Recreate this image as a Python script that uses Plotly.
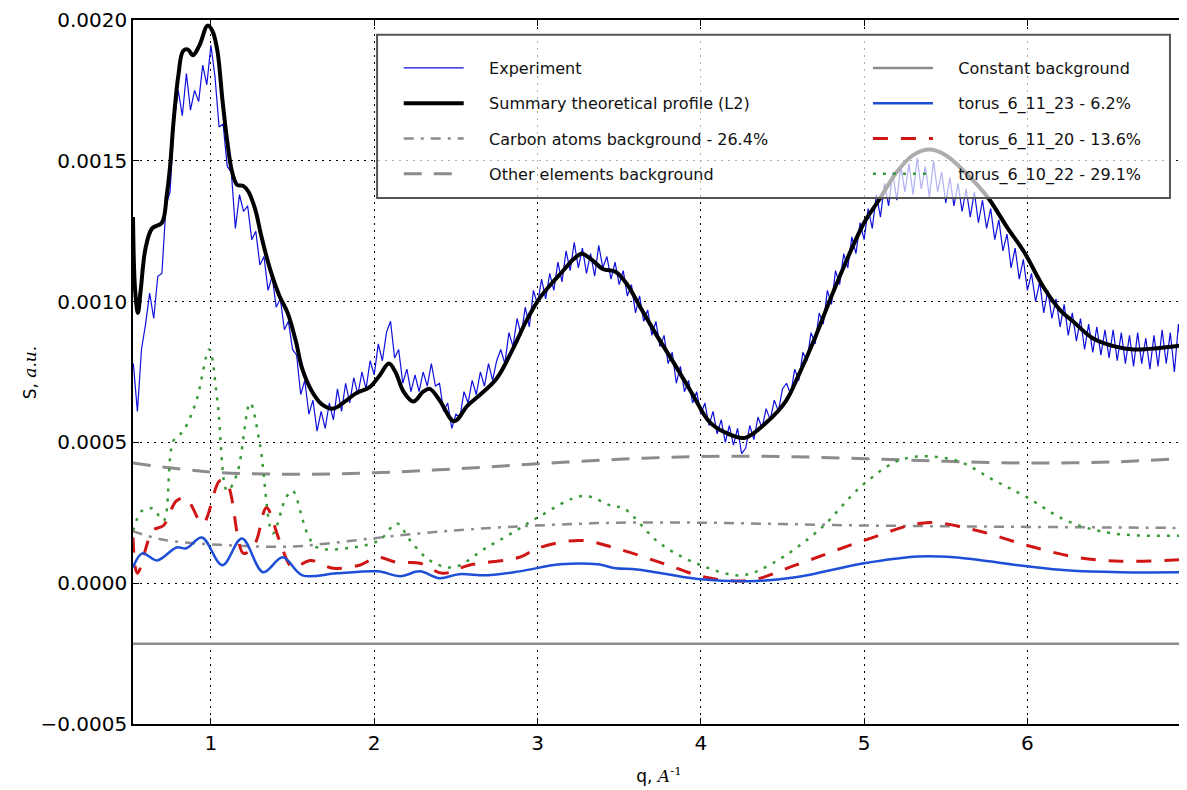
import numpy as np
import plotly.graph_objects as go

U = 1e-4  # values below are in units of 1e-4

# ---------------- Experiment (noisy measured profile) ----------------
q_exp_start, q_exp_end = 0.525, 6.975
exp_vals = [
    7.8, 6.1, 8.3, 9.2, 10.3, 9.4, 10.9, 11.0, 13.4, 13.9,
    16.4, 17.5, 16.6, 18.1, 16.8, 17.5, 17.1, 18.4, 17.7, 19.1,
    18.0, 16.2, 16.3, 14.8, 14.6, 12.6, 13.8, 13.2, 13.4, 12.2,
    12.5, 11.3, 11.6, 10.4, 10.9, 9.8, 10.1, 9.0, 9.3, 8.3,
    8.1, 6.7, 7.2, 6.0, 6.5, 5.4, 6.1, 5.5, 6.4, 5.8,
    6.9, 6.1, 7.1, 6.4, 7.3, 6.7, 7.5, 6.9, 7.9, 7.4,
    8.5, 7.9, 8.9, 9.3, 8.0, 8.3, 7.1, 7.6, 6.8, 7.4,
    6.8, 7.5, 7.0, 7.8, 7.0, 7.1, 6.1, 6.4, 5.5, 6.0,
    5.9, 6.8, 6.4, 7.2, 6.7, 7.5, 7.0, 7.8, 7.2, 7.9,
    8.3, 7.8, 8.9, 8.4, 9.4, 8.8, 9.8, 9.1, 10.4, 9.9,
    10.8, 10.1, 11.0, 10.4, 11.4, 10.7, 11.8, 11.1, 12.1, 11.2,
    11.9, 11.0, 11.7, 10.9, 12.0, 11.2, 11.6, 10.8, 11.4, 10.6,
    11.1, 10.2, 10.6, 9.6, 10.2, 9.3, 9.7, 8.8, 9.3, 8.4,
    8.8, 7.8, 8.2, 7.1, 7.7, 6.8, 7.2, 6.4, 6.8, 6.0,
    6.4, 5.6, 6.1, 5.3, 5.8, 5.0, 5.6, 4.9, 5.5, 4.6,
    4.8, 5.6, 5.1, 5.9, 5.5, 6.2, 5.8, 6.5, 6.1, 6.9,
    7.1, 6.7, 7.6, 7.2, 8.2, 7.9, 8.9, 8.5, 9.6, 9.2,
    10.4, 9.9, 11.1, 10.6, 11.7, 11.2, 12.3, 11.7, 12.8, 12.2,
    13.3, 12.6, 13.8, 13.0, 14.2, 13.4, 14.6, 13.6, 14.8, 13.9,
    14.9, 13.8, 15.1, 14.0, 14.8, 13.7, 15.0, 13.9, 14.6, 13.5,
    14.4, 13.4, 14.2, 13.2, 14.0, 13.0, 13.9, 12.8, 13.6, 12.6,
    13.3, 12.2, 12.9, 11.8, 12.4, 11.2, 11.9, 10.8, 11.5, 10.4,
    11.0, 10.0, 10.7, 9.6, 10.4, 9.4, 10.1, 9.1, 9.9, 8.8,
    9.6, 8.6, 9.4, 8.3, 9.2, 8.2, 9.1, 8.1, 9.0, 8.0,
    9.0, 7.9, 8.9, 7.8, 8.8, 7.7, 8.9, 7.8, 8.7, 7.6,
    8.8, 7.7, 9.0, 7.8, 8.9, 7.5, 9.2, 7.9, 8.6,
]
q_exp = np.linspace(q_exp_start, q_exp_end, len(exp_vals))

# ---------------- Summary theoretical profile (L2) ----------------
q_sum = [0.523, 0.535, 0.553, 0.57, 0.6, 0.64, 0.70, 0.73, 0.75, 0.77, 0.80, 0.83,
         0.86, 0.89, 0.93, 0.98, 1.01, 1.04, 1.07, 1.10, 1.13, 1.16, 1.20, 1.23,
         1.27, 1.31, 1.36, 1.42, 1.47, 1.52, 1.56, 1.62, 1.68, 1.75, 1.82, 1.89,
         1.97, 2.03, 2.09, 2.13, 2.18, 2.24, 2.30, 2.34, 2.40, 2.49, 2.57, 2.65,
         2.75, 2.85, 2.93, 3.01, 3.08, 3.15, 3.22, 3.27, 3.33, 3.40, 3.48, 3.55,
         3.62, 3.73, 3.84, 3.95, 4.05, 4.15, 4.27, 4.40, 4.52, 4.60, 4.69, 4.78,
         4.87, 5.00, 5.09, 5.20, 5.30, 5.40, 5.50, 5.60, 5.70, 5.77, 5.88, 5.98,
         6.10, 6.20, 6.28, 6.40, 6.54, 6.65, 6.76, 6.88, 6.99]
s_sum = [13.0, 10.5, 9.6, 10.4, 11.9, 12.6, 12.8, 13.8, 14.8, 16.3, 18.0, 18.9,
         18.95, 18.75, 19.1, 19.8, 19.6, 18.9, 17.2, 15.7, 14.6, 14.15, 14.1, 13.9,
         13.3, 12.3, 11.2, 10.2, 9.6, 8.6, 7.6, 6.8, 6.35, 6.2, 6.45, 6.75,
         6.95, 7.35, 7.8, 7.5, 6.8, 6.45, 6.8, 6.9, 6.5, 5.75, 6.3, 6.7,
         7.27, 8.33, 9.3, 10.1, 10.6, 11.05, 11.5, 11.7, 11.5, 11.16, 11.05, 10.6,
         9.9, 8.8, 7.77, 6.7, 5.75, 5.35, 5.16, 5.7, 6.46, 7.4, 8.58, 9.9,
         11.16, 12.8, 13.6, 14.6, 15.2, 15.4, 15.2, 14.7, 14.1, 13.6, 12.6, 11.76,
         10.5, 9.7, 9.29, 8.7, 8.4, 8.3, 8.33, 8.4, 8.47]

# ---------------- Backgrounds ----------------
q_carbon = [0.52, 0.7, 0.9, 1.1, 1.3, 1.5, 1.7, 2.0, 2.3, 2.6, 3.0, 3.5, 4.0,
            4.5, 5.0, 5.5, 6.0, 6.5, 7.0]
s_carbon = [1.85, 1.55, 1.42, 1.35, 1.3, 1.3, 1.4, 1.6, 1.78, 1.92, 2.05, 2.15, 2.15,
            2.1, 2.05, 2.02, 2.0, 1.98, 1.96]

q_other = [0.52, 1.0, 1.5, 2.0, 2.5, 3.0, 3.5, 4.0, 4.5, 5.0, 5.5, 6.0, 6.5, 7.0]
s_other = [4.27, 3.95, 3.87, 3.92, 4.06, 4.24, 4.4, 4.5, 4.5, 4.42, 4.33, 4.27, 4.3, 4.45]

q_const = [0.52, 7.0]
s_const = [-2.15, -2.15]

# ---------------- Torus components ----------------
q_t23 = [0.523, 0.58, 0.67, 0.79, 0.85, 0.945, 1.07, 1.19, 1.32, 1.44, 1.56, 1.77,
         2.02, 2.16, 2.28, 2.40, 2.52, 2.69, 2.89, 3.14, 3.37, 3.48, 3.61, 4.0,
         4.30, 4.58, 5.0, 5.33, 5.55, 6.0, 6.24, 6.57, 6.99]
s_t23 = [0.56, 1.06, 0.81, 1.27, 1.24, 1.62, 0.64, 1.59, 0.39, 0.92, 0.28, 0.35,
         0.42, 0.25, 0.42, 0.18, 0.32, 0.28, 0.42, 0.67, 0.67, 0.53, 0.49, 0.14,
         0.07, 0.21, 0.71, 0.95, 0.92, 0.60, 0.46, 0.39, 0.39]

q_t20 = [0.523, 0.55, 0.645, 0.71, 0.79, 0.85, 0.95, 1.055, 1.10, 1.20, 1.27, 1.34,
         1.42, 1.50, 1.61, 1.75, 1.91, 2.02, 2.14, 2.28, 2.42, 2.58, 2.89, 3.0,
         3.26, 3.48, 3.75, 4.03, 4.30, 4.58, 5.0, 5.38, 5.69, 6.0, 6.30, 6.57, 6.99]
s_t20 = [1.62, 0.35, 1.87, 2.05, 2.93, 3.0, 2.12, 3.64, 3.53, 1.06, 1.41, 2.68,
         1.52, 0.56, 0.81, 0.53, 0.64, 0.92, 0.74, 0.71, 0.35, 0.64, 0.92, 1.24,
         1.52, 1.24, 0.74, 0.21, 0.10, 0.64, 1.52, 2.15, 1.87, 1.34, 0.92, 0.78, 0.85]

q_t22 = [0.523, 0.58, 0.645, 0.71, 0.77, 0.83, 0.91, 0.99, 1.04, 1.10, 1.16, 1.24,
         1.30, 1.38, 1.46, 1.50, 1.59, 1.65, 1.87, 2.03, 2.14, 2.22, 2.34, 2.48,
         2.69, 2.87, 3.0, 3.28, 3.45, 3.53, 3.75, 4.0, 4.25, 4.44, 4.72, 5.0,
         5.24, 5.55, 5.80, 6.0, 6.24, 6.52, 6.99]
s_t22 = [1.87, 2.58, 2.65, 2.22, 5.05, 5.4, 6.46, 8.3, 6.46, 3.28, 3.88, 6.4,
         4.94, 1.77, 3.04, 3.28, 1.77, 1.27, 1.27, 1.52, 2.12, 1.52, 0.81, 0.56,
         1.27, 1.87, 2.33, 3.1, 2.75, 2.65, 1.41, 0.64, 0.28, 0.71, 1.87, 3.53,
         4.41, 4.38, 3.64, 3.04, 2.22, 1.77, 1.69]

names = {
    "exp": "Experiment",
    "sum": "Summary theoretical profile (L2)",
    "carbon": "Carbon atoms background - 26.4%",
    "other": "Other elements background",
    "const": "Constant background",
    "t23": "torus_6_11_23 - 6.2%",
    "t20": "torus_6_11_20 - 13.6%",
    "t22": "torus_6_10_22 - 29.1%",
}

def sc(v):
    return np.array(v) * U

pad = "\u00a0" * 4
fig = go.Figure()

def add(key, x, y, line, legend, shape="linear"):
    fig.add_trace(go.Scatter(
        x=x, y=sc(y), mode="lines", name=pad + names[key],
        line=dict(shape=shape, **line), legend=legend, legendgroup=key,
        hoverinfo="skip"))

add("exp", q_exp, exp_vals, dict(color="#1010dd", width=1.2), "legend")
add("carbon", q_carbon, s_carbon, dict(color="#8c8c8c", width=2.5, dash="10px,7px,3px,7px"), "legend", "spline")
add("other", q_other, s_other, dict(color="#8c8c8c", width=3, dash="18px,12px"), "legend", "spline")
add("const", q_const, s_const, dict(color="#8c8c8c", width=2.5), "legend2")
add("t22", q_t22, s_t22, dict(color="#3a9a3a", width=2.5, dash="3px,7px"), "legend2", "spline")
add("t20", q_t20, s_t20, dict(color="#d01515", width=3, dash="15px,13px"), "legend2", "spline")
add("t23", q_t23, s_t23, dict(color="#1f4fd6", width=2.5), "legend2", "spline")
add("sum", q_sum, s_sum, dict(color="black", width=4), "legend", "spline")

# legend ranks
rank = {"exp": 1, "sum": 2, "carbon": 3, "other": 4, "const": 1, "t23": 2, "t20": 3, "t22": 4}
for tr in fig.data:
    tr.legendrank = rank[tr.legendgroup]

axis_common = dict(
    showline=True, linecolor="black", linewidth=1.5, mirror="allticks",
    ticks="inside", ticklen=6, tickwidth=1, tickcolor="black", automargin=False,
    ticklabeloverflow="allow",
    showgrid=True, gridcolor="black", gridwidth=1, griddash="2px,5px",
    zeroline=False, tickfont=dict(family="DejaVu Sans", size=20, color="black"),
)

fig.update_layout(
    width=1187, height=790,
    margin=dict(l=125, r=10, t=12, b=74),
    paper_bgcolor="white", plot_bgcolor="white",
    xaxis=dict(range=[0.523, 6.965], dtick=1, tick0=0,
               title=dict(text="q, <span style='font-family:DejaVu Serif'><i>A</i><sup>-1</sup></span>",
                          font=dict(family="DejaVu Sans", size=17, color="black"), standoff=16),
               **axis_common),
    yaxis=dict(range=[-0.0005, 0.002], dtick=0.0005, tick0=0, tickformat=".4f",
               **axis_common),
    legend=dict(x=0.2526, y=0.956, xanchor="left", yanchor="top", bgcolor="rgba(0,0,0,0)",
                borderwidth=0, itemwidth=60, tracegroupgap=11.5,
                font=dict(family="DejaVu Sans", size=16, color="#111")),
    legend2=dict(x=0.6986, y=0.956, xanchor="left", yanchor="top", bgcolor="rgba(0,0,0,0)",
                 borderwidth=0, itemwidth=60, tracegroupgap=11.5,
                 font=dict(family="DejaVu Sans", size=16, color="#111")),
    showlegend=True,
    shapes=[dict(type="rect", xref="paper", yref="paper", x0=0.232, x1=0.9857,
                 y0=0.747, y1=0.979, layer="above",
                 fillcolor="rgba(255,255,255,0.68)", line=dict(color="#555555", width=2))],
    annotations=[dict(text="S, <span style='font-family:DejaVu Serif'><i>a.u.</i></span>",
                      xref="paper", yref="paper", x=-0.109, y=0.5, textangle=-90,
                      showarrow=False, font=dict(family="DejaVu Sans", size=17, color="black"))],
)

fig.write_html("out.html")
